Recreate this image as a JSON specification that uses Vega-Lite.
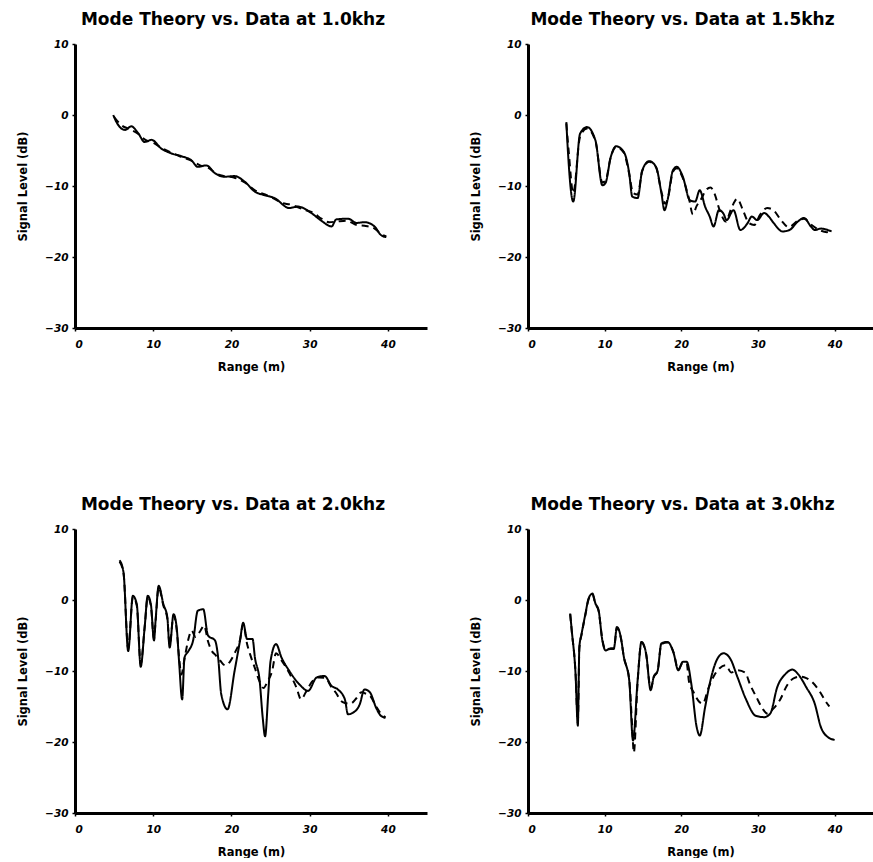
{
  "$schema": "https://vega.github.io/schema/vega-lite/v6.json",
  "background": "white",
  "padding": {"left": 17, "top": 11, "right": 0, "bottom": 0},
  "config": {
    "view": {"stroke": null},
    "axis": {"domainColor": "black", "domainWidth": 3, "tickColor": "black", "tickWidth": 1.5, "tickSize": 3, "grid": false,
      "labelFont": "DejaVu Sans", "labelFontWeight": "bold", "labelFontStyle": "italic", "labelFontSize": 10.5, "labelColor": "black",
      "titleFont": "DejaVu Sans", "titleFontWeight": "bold", "titleFontSize": 11.5, "titleColor": "black"},
    "axisX": {"labelPadding": 8, "titlePadding": 12},
    "axisY": {"labelPadding": 4, "titlePadding": 16},
    "title": {"font": "DejaVu Sans", "fontSize": 17, "fontWeight": "bold", "color": "black", "offset": 10, "dx": -18}
  },
  "datasets": {
    "d": [
      {"freq": "1.0", "series": "Data", "range": 4.9, "level": 0},
      {"freq": "1.0", "series": "Data", "range": 5.3, "level": -1},
      {"freq": "1.0", "series": "Data", "range": 6.4, "level": -2.1},
      {"freq": "1.0", "series": "Data", "range": 7.2, "level": -1.6},
      {"freq": "1.0", "series": "Data", "range": 8.1, "level": -2.6},
      {"freq": "1.0", "series": "Data", "range": 8.9, "level": -3.8},
      {"freq": "1.0", "series": "Data", "range": 9.8, "level": -3.5},
      {"freq": "1.0", "series": "Data", "range": 11, "level": -4.7},
      {"freq": "1.0", "series": "Data", "range": 12.3, "level": -5.4},
      {"freq": "1.0", "series": "Data", "range": 13.6, "level": -5.8},
      {"freq": "1.0", "series": "Data", "range": 14.9, "level": -6.4},
      {"freq": "1.0", "series": "Data", "range": 15.7, "level": -7.3},
      {"freq": "1.0", "series": "Data", "range": 16.8, "level": -7.1},
      {"freq": "1.0", "series": "Data", "range": 17.9, "level": -8.2},
      {"freq": "1.0", "series": "Data", "range": 19.1, "level": -8.7},
      {"freq": "1.0", "series": "Data", "range": 20.4, "level": -8.6},
      {"freq": "1.0", "series": "Data", "range": 21.7, "level": -9.4},
      {"freq": "1.0", "series": "Data", "range": 23, "level": -10.8},
      {"freq": "1.0", "series": "Data", "range": 24.3, "level": -11.3},
      {"freq": "1.0", "series": "Data", "range": 25.5, "level": -11.7},
      {"freq": "1.0", "series": "Data", "range": 27.4, "level": -13.1},
      {"freq": "1.0", "series": "Data", "range": 28.5, "level": -12.9},
      {"freq": "1.0", "series": "Data", "range": 30.2, "level": -13.8},
      {"freq": "1.0", "series": "Data", "range": 31.5, "level": -14.9},
      {"freq": "1.0", "series": "Data", "range": 32.8, "level": -15.7},
      {"freq": "1.0", "series": "Data", "range": 33.4, "level": -14.7},
      {"freq": "1.0", "series": "Data", "range": 34.9, "level": -14.6},
      {"freq": "1.0", "series": "Data", "range": 36, "level": -15.2},
      {"freq": "1.0", "series": "Data", "range": 37, "level": -15.1},
      {"freq": "1.0", "series": "Data", "range": 38.3, "level": -15.7},
      {"freq": "1.0", "series": "Data", "range": 39.1, "level": -16.9},
      {"freq": "1.0", "series": "Data", "range": 39.8, "level": -17.2},
      {"freq": "1.0", "series": "Theory", "range": 5, "level": -0.3},
      {"freq": "1.0", "series": "Theory", "range": 6, "level": -1.5},
      {"freq": "1.0", "series": "Theory", "range": 7, "level": -2},
      {"freq": "1.0", "series": "Theory", "range": 8, "level": -2.6},
      {"freq": "1.0", "series": "Theory", "range": 9, "level": -3.5},
      {"freq": "1.0", "series": "Theory", "range": 10, "level": -3.9},
      {"freq": "1.0", "series": "Theory", "range": 11, "level": -4.6},
      {"freq": "1.0", "series": "Theory", "range": 12.3, "level": -5.3},
      {"freq": "1.0", "series": "Theory", "range": 13.6, "level": -5.9},
      {"freq": "1.0", "series": "Theory", "range": 15, "level": -6.5},
      {"freq": "1.0", "series": "Theory", "range": 16, "level": -7.1},
      {"freq": "1.0", "series": "Theory", "range": 17, "level": -7.4},
      {"freq": "1.0", "series": "Theory", "range": 18, "level": -8.2},
      {"freq": "1.0", "series": "Theory", "range": 19, "level": -8.6},
      {"freq": "1.0", "series": "Theory", "range": 20.3, "level": -8.8},
      {"freq": "1.0", "series": "Theory", "range": 21.7, "level": -9.5},
      {"freq": "1.0", "series": "Theory", "range": 23, "level": -10.6},
      {"freq": "1.0", "series": "Theory", "range": 24.3, "level": -11.2},
      {"freq": "1.0", "series": "Theory", "range": 25.5, "level": -11.8},
      {"freq": "1.0", "series": "Theory", "range": 26.5, "level": -12.4},
      {"freq": "1.0", "series": "Theory", "range": 27.5, "level": -12.6},
      {"freq": "1.0", "series": "Theory", "range": 28.5, "level": -13},
      {"freq": "1.0", "series": "Theory", "range": 29.5, "level": -13.4},
      {"freq": "1.0", "series": "Theory", "range": 30.5, "level": -13.8},
      {"freq": "1.0", "series": "Theory", "range": 31.5, "level": -14.6},
      {"freq": "1.0", "series": "Theory", "range": 32.5, "level": -15.1},
      {"freq": "1.0", "series": "Theory", "range": 33.5, "level": -15},
      {"freq": "1.0", "series": "Theory", "range": 34.8, "level": -14.9},
      {"freq": "1.0", "series": "Theory", "range": 36, "level": -15.5},
      {"freq": "1.0", "series": "Theory", "range": 37, "level": -15.6},
      {"freq": "1.0", "series": "Theory", "range": 38.3, "level": -16},
      {"freq": "1.0", "series": "Theory", "range": 39.2, "level": -16.8},
      {"freq": "1.0", "series": "Theory", "range": 39.8, "level": -17.1},

      {"freq": "1.5", "series": "Data", "range": 5.0, "level": -1.0},
      {"freq": "1.5", "series": "Data", "range": 5.2, "level": -5},
      {"freq": "1.5", "series": "Data", "range": 5.9, "level": -12.2},
      {"freq": "1.5", "series": "Data", "range": 6.8, "level": -2.6},
      {"freq": "1.5", "series": "Data", "range": 7.7, "level": -1.7},
      {"freq": "1.5", "series": "Data", "range": 8.8, "level": -3.6},
      {"freq": "1.5", "series": "Data", "range": 9.7, "level": -9.9},
      {"freq": "1.5", "series": "Data", "range": 10.1, "level": -9.6},
      {"freq": "1.5", "series": "Data", "range": 10.8, "level": -5.9},
      {"freq": "1.5", "series": "Data", "range": 11.5, "level": -4.4},
      {"freq": "1.5", "series": "Data", "range": 12.5, "level": -5.2},
      {"freq": "1.5", "series": "Data", "range": 13.2, "level": -8.2},
      {"freq": "1.5", "series": "Data", "range": 13.6, "level": -11.5},
      {"freq": "1.5", "series": "Data", "range": 14.3, "level": -11.7},
      {"freq": "1.5", "series": "Data", "range": 14.9, "level": -7.8},
      {"freq": "1.5", "series": "Data", "range": 15.8, "level": -6.5},
      {"freq": "1.5", "series": "Data", "range": 16.7, "level": -7.3},
      {"freq": "1.5", "series": "Data", "range": 17.4, "level": -11},
      {"freq": "1.5", "series": "Data", "range": 17.8, "level": -13.4},
      {"freq": "1.5", "series": "Data", "range": 18.2, "level": -12},
      {"freq": "1.5", "series": "Data", "range": 18.9, "level": -7.8},
      {"freq": "1.5", "series": "Data", "range": 19.4, "level": -7.3},
      {"freq": "1.5", "series": "Data", "range": 20.2, "level": -8.7},
      {"freq": "1.5", "series": "Data", "range": 21.1, "level": -12},
      {"freq": "1.5", "series": "Data", "range": 21.8, "level": -12.2},
      {"freq": "1.5", "series": "Data", "range": 22.4, "level": -10.6},
      {"freq": "1.5", "series": "Data", "range": 23.1, "level": -12.9},
      {"freq": "1.5", "series": "Data", "range": 23.7, "level": -14.3},
      {"freq": "1.5", "series": "Data", "range": 24.2, "level": -15.7},
      {"freq": "1.5", "series": "Data", "range": 24.9, "level": -13.4},
      {"freq": "1.5", "series": "Data", "range": 25.5, "level": -13.9},
      {"freq": "1.5", "series": "Data", "range": 25.9, "level": -14.8},
      {"freq": "1.5", "series": "Data", "range": 26.8, "level": -13.4},
      {"freq": "1.5", "series": "Data", "range": 27.7, "level": -16.2},
      {"freq": "1.5", "series": "Data", "range": 28.6, "level": -15.3},
      {"freq": "1.5", "series": "Data", "range": 29.2, "level": -14.3},
      {"freq": "1.5", "series": "Data", "range": 29.9, "level": -14.8},
      {"freq": "1.5", "series": "Data", "range": 30.8, "level": -13.8},
      {"freq": "1.5", "series": "Data", "range": 31.4, "level": -14.3},
      {"freq": "1.5", "series": "Data", "range": 32.1, "level": -15.3},
      {"freq": "1.5", "series": "Data", "range": 33.2, "level": -16.4},
      {"freq": "1.5", "series": "Data", "range": 34.1, "level": -16.2},
      {"freq": "1.5", "series": "Data", "range": 35.2, "level": -15},
      {"freq": "1.5", "series": "Data", "range": 36, "level": -14.5},
      {"freq": "1.5", "series": "Data", "range": 36.9, "level": -15.7},
      {"freq": "1.5", "series": "Data", "range": 37.4, "level": -16.2},
      {"freq": "1.5", "series": "Data", "range": 38.2, "level": -16},
      {"freq": "1.5", "series": "Data", "range": 39.1, "level": -16.2},
      {"freq": "1.5", "series": "Data", "range": 39.6, "level": -16.4},
      {"freq": "1.5", "series": "Theory", "range": 5.0, "level": -1.2},
      {"freq": "1.5", "series": "Theory", "range": 5.3, "level": -5},
      {"freq": "1.5", "series": "Theory", "range": 5.9, "level": -11},
      {"freq": "1.5", "series": "Theory", "range": 6.8, "level": -3},
      {"freq": "1.5", "series": "Theory", "range": 7.7, "level": -1.9},
      {"freq": "1.5", "series": "Theory", "range": 8.8, "level": -3.7},
      {"freq": "1.5", "series": "Theory", "range": 9.7, "level": -9.5},
      {"freq": "1.5", "series": "Theory", "range": 10.1, "level": -9.3},
      {"freq": "1.5", "series": "Theory", "range": 10.8, "level": -5.9},
      {"freq": "1.5", "series": "Theory", "range": 11.5, "level": -4.5},
      {"freq": "1.5", "series": "Theory", "range": 12.5, "level": -5.3},
      {"freq": "1.5", "series": "Theory", "range": 13.2, "level": -8.3},
      {"freq": "1.5", "series": "Theory", "range": 13.7, "level": -11},
      {"freq": "1.5", "series": "Theory", "range": 14.3, "level": -11.2},
      {"freq": "1.5", "series": "Theory", "range": 14.9, "level": -7.9},
      {"freq": "1.5", "series": "Theory", "range": 15.8, "level": -6.6},
      {"freq": "1.5", "series": "Theory", "range": 16.7, "level": -7.4},
      {"freq": "1.5", "series": "Theory", "range": 17.4, "level": -10.8},
      {"freq": "1.5", "series": "Theory", "range": 17.9, "level": -12.5},
      {"freq": "1.5", "series": "Theory", "range": 18.3, "level": -11.5},
      {"freq": "1.5", "series": "Theory", "range": 18.9, "level": -8},
      {"freq": "1.5", "series": "Theory", "range": 19.4, "level": -7.5},
      {"freq": "1.5", "series": "Theory", "range": 20.2, "level": -8.9},
      {"freq": "1.5", "series": "Theory", "range": 21, "level": -11.8},
      {"freq": "1.5", "series": "Theory", "range": 21.5, "level": -14},
      {"freq": "1.5", "series": "Theory", "range": 22, "level": -12.8},
      {"freq": "1.5", "series": "Theory", "range": 22.6, "level": -11.8},
      {"freq": "1.5", "series": "Theory", "range": 23.2, "level": -10.6},
      {"freq": "1.5", "series": "Theory", "range": 23.8, "level": -10.2},
      {"freq": "1.5", "series": "Theory", "range": 24.3, "level": -11},
      {"freq": "1.5", "series": "Theory", "range": 25, "level": -13.4},
      {"freq": "1.5", "series": "Theory", "range": 25.8, "level": -15},
      {"freq": "1.5", "series": "Theory", "range": 26.5, "level": -13.2},
      {"freq": "1.5", "series": "Theory", "range": 27.3, "level": -11.8},
      {"freq": "1.5", "series": "Theory", "range": 28, "level": -13.3},
      {"freq": "1.5", "series": "Theory", "range": 28.8, "level": -15.2},
      {"freq": "1.5", "series": "Theory", "range": 29.5, "level": -15.5},
      {"freq": "1.5", "series": "Theory", "range": 30.3, "level": -14},
      {"freq": "1.5", "series": "Theory", "range": 31.2, "level": -13.1},
      {"freq": "1.5", "series": "Theory", "range": 32, "level": -13.4},
      {"freq": "1.5", "series": "Theory", "range": 33, "level": -14.8},
      {"freq": "1.5", "series": "Theory", "range": 34, "level": -15.8},
      {"freq": "1.5", "series": "Theory", "range": 35.2, "level": -14.9},
      {"freq": "1.5", "series": "Theory", "range": 36, "level": -14.6},
      {"freq": "1.5", "series": "Theory", "range": 37, "level": -15.5},
      {"freq": "1.5", "series": "Theory", "range": 38, "level": -16.2},
      {"freq": "1.5", "series": "Theory", "range": 39, "level": -16.5},
      {"freq": "1.5", "series": "Theory", "range": 39.6, "level": -16.4},

      {"freq": "2.0", "series": "Data", "range": 5.7, "level": 5.6},
      {"freq": "2.0", "series": "Data", "range": 6.2, "level": 3.9},
      {"freq": "2.0", "series": "Data", "range": 6.8, "level": -7.2},
      {"freq": "2.0", "series": "Data", "range": 7.4, "level": 0.6},
      {"freq": "2.0", "series": "Data", "range": 7.9, "level": -0.6},
      {"freq": "2.0", "series": "Data", "range": 8.4, "level": -9.4},
      {"freq": "2.0", "series": "Data", "range": 8.9, "level": -3.9},
      {"freq": "2.0", "series": "Data", "range": 9.3, "level": 0.6},
      {"freq": "2.0", "series": "Data", "range": 9.7, "level": -0.6},
      {"freq": "2.0", "series": "Data", "range": 10.1, "level": -5.7},
      {"freq": "2.0", "series": "Data", "range": 10.3, "level": -2.9},
      {"freq": "2.0", "series": "Data", "range": 10.7, "level": 2.0},
      {"freq": "2.0", "series": "Data", "range": 11.3, "level": -0.6},
      {"freq": "2.0", "series": "Data", "range": 11.8, "level": -2.4},
      {"freq": "2.0", "series": "Data", "range": 12.1, "level": -6.7},
      {"freq": "2.0", "series": "Data", "range": 12.6, "level": -2.0},
      {"freq": "2.0", "series": "Data", "range": 13, "level": -3.9},
      {"freq": "2.0", "series": "Data", "range": 13.3, "level": -8.6},
      {"freq": "2.0", "series": "Data", "range": 13.7, "level": -14},
      {"freq": "2.0", "series": "Data", "range": 14, "level": -8.1},
      {"freq": "2.0", "series": "Data", "range": 14.5, "level": -7.2},
      {"freq": "2.0", "series": "Data", "range": 15.1, "level": -5.7},
      {"freq": "2.0", "series": "Data", "range": 15.7, "level": -1.5},
      {"freq": "2.0", "series": "Data", "range": 16.4, "level": -1.3},
      {"freq": "2.0", "series": "Data", "range": 17, "level": -5},
      {"freq": "2.0", "series": "Data", "range": 17.9, "level": -5.7},
      {"freq": "2.0", "series": "Data", "range": 18.3, "level": -8.1},
      {"freq": "2.0", "series": "Data", "range": 18.7, "level": -13.3},
      {"freq": "2.0", "series": "Data", "range": 19.5, "level": -15.4},
      {"freq": "2.0", "series": "Data", "range": 20.4, "level": -10},
      {"freq": "2.0", "series": "Data", "range": 21.1, "level": -5.7},
      {"freq": "2.0", "series": "Data", "range": 21.5, "level": -3.2},
      {"freq": "2.0", "series": "Data", "range": 22, "level": -5.5},
      {"freq": "2.0", "series": "Data", "range": 22.7, "level": -5.5},
      {"freq": "2.0", "series": "Data", "range": 23, "level": -8.1},
      {"freq": "2.0", "series": "Data", "range": 23.6, "level": -11.3},
      {"freq": "2.0", "series": "Data", "range": 24, "level": -16.6},
      {"freq": "2.0", "series": "Data", "range": 24.3, "level": -19.2},
      {"freq": "2.0", "series": "Data", "range": 24.7, "level": -13.3},
      {"freq": "2.0", "series": "Data", "range": 25, "level": -8.6},
      {"freq": "2.0", "series": "Data", "range": 25.7, "level": -6.2},
      {"freq": "2.0", "series": "Data", "range": 26.4, "level": -8.1},
      {"freq": "2.0", "series": "Data", "range": 27.4, "level": -10},
      {"freq": "2.0", "series": "Data", "range": 28.7, "level": -11.9},
      {"freq": "2.0", "series": "Data", "range": 29.8, "level": -12.8},
      {"freq": "2.0", "series": "Data", "range": 30.9, "level": -10.9},
      {"freq": "2.0", "series": "Data", "range": 31.9, "level": -10.7},
      {"freq": "2.0", "series": "Data", "range": 32.8, "level": -12.1},
      {"freq": "2.0", "series": "Data", "range": 33.6, "level": -12.6},
      {"freq": "2.0", "series": "Data", "range": 34.5, "level": -14},
      {"freq": "2.0", "series": "Data", "range": 34.9, "level": -16.1},
      {"freq": "2.0", "series": "Data", "range": 35.5, "level": -15.9},
      {"freq": "2.0", "series": "Data", "range": 36.4, "level": -14.7},
      {"freq": "2.0", "series": "Data", "range": 37, "level": -12.6},
      {"freq": "2.0", "series": "Data", "range": 37.7, "level": -13},
      {"freq": "2.0", "series": "Data", "range": 38.5, "level": -15.2},
      {"freq": "2.0", "series": "Data", "range": 39.1, "level": -16.3},
      {"freq": "2.0", "series": "Data", "range": 39.7, "level": -16.6},
      {"freq": "2.0", "series": "Theory", "range": 5.7, "level": 5.4},
      {"freq": "2.0", "series": "Theory", "range": 6.2, "level": 3.8},
      {"freq": "2.0", "series": "Theory", "range": 6.8, "level": -6.8},
      {"freq": "2.0", "series": "Theory", "range": 7.4, "level": 0.4},
      {"freq": "2.0", "series": "Theory", "range": 7.9, "level": -0.8},
      {"freq": "2.0", "series": "Theory", "range": 8.4, "level": -9},
      {"freq": "2.0", "series": "Theory", "range": 8.9, "level": -3.9},
      {"freq": "2.0", "series": "Theory", "range": 9.3, "level": 0.4},
      {"freq": "2.0", "series": "Theory", "range": 9.7, "level": -0.8},
      {"freq": "2.0", "series": "Theory", "range": 10.1, "level": -5.5},
      {"freq": "2.0", "series": "Theory", "range": 10.3, "level": -3},
      {"freq": "2.0", "series": "Theory", "range": 10.7, "level": 1.8},
      {"freq": "2.0", "series": "Theory", "range": 11.3, "level": -0.8},
      {"freq": "2.0", "series": "Theory", "range": 11.8, "level": -2.6},
      {"freq": "2.0", "series": "Theory", "range": 12.1, "level": -6.3},
      {"freq": "2.0", "series": "Theory", "range": 12.6, "level": -2.2},
      {"freq": "2.0", "series": "Theory", "range": 13, "level": -4.2},
      {"freq": "2.0", "series": "Theory", "range": 13.3, "level": -8},
      {"freq": "2.0", "series": "Theory", "range": 13.6, "level": -10.5},
      {"freq": "2.0", "series": "Theory", "range": 14, "level": -8.3},
      {"freq": "2.0", "series": "Theory", "range": 14.5, "level": -5.5},
      {"freq": "2.0", "series": "Theory", "range": 14.9, "level": -4.3},
      {"freq": "2.0", "series": "Theory", "range": 15.4, "level": -5.2},
      {"freq": "2.0", "series": "Theory", "range": 16, "level": -4.4},
      {"freq": "2.0", "series": "Theory", "range": 16.5, "level": -3.6},
      {"freq": "2.0", "series": "Theory", "range": 17, "level": -5.8},
      {"freq": "2.0", "series": "Theory", "range": 17.4, "level": -7},
      {"freq": "2.0", "series": "Theory", "range": 18, "level": -7.8},
      {"freq": "2.0", "series": "Theory", "range": 18.6, "level": -8.6},
      {"freq": "2.0", "series": "Theory", "range": 19.2, "level": -9.2},
      {"freq": "2.0", "series": "Theory", "range": 19.8, "level": -8.7},
      {"freq": "2.0", "series": "Theory", "range": 20.4, "level": -7.5},
      {"freq": "2.0", "series": "Theory", "range": 21.1, "level": -5.6},
      {"freq": "2.0", "series": "Theory", "range": 21.5, "level": -3.4},
      {"freq": "2.0", "series": "Theory", "range": 22, "level": -6.2},
      {"freq": "2.0", "series": "Theory", "range": 22.4, "level": -7.7},
      {"freq": "2.0", "series": "Theory", "range": 23, "level": -9.6},
      {"freq": "2.0", "series": "Theory", "range": 23.6, "level": -11.5},
      {"freq": "2.0", "series": "Theory", "range": 24.1, "level": -12.4},
      {"freq": "2.0", "series": "Theory", "range": 24.6, "level": -11.5},
      {"freq": "2.0", "series": "Theory", "range": 25.2, "level": -10},
      {"freq": "2.0", "series": "Theory", "range": 25.7, "level": -7.5},
      {"freq": "2.0", "series": "Theory", "range": 26.4, "level": -8.5},
      {"freq": "2.0", "series": "Theory", "range": 27.4, "level": -10.3},
      {"freq": "2.0", "series": "Theory", "range": 28.3, "level": -12.3},
      {"freq": "2.0", "series": "Theory", "range": 28.9, "level": -14},
      {"freq": "2.0", "series": "Theory", "range": 29.5, "level": -13},
      {"freq": "2.0", "series": "Theory", "range": 30.3, "level": -11.5},
      {"freq": "2.0", "series": "Theory", "range": 31.2, "level": -10.9},
      {"freq": "2.0", "series": "Theory", "range": 32, "level": -11},
      {"freq": "2.0", "series": "Theory", "range": 32.8, "level": -12.3},
      {"freq": "2.0", "series": "Theory", "range": 33.5, "level": -13.3},
      {"freq": "2.0", "series": "Theory", "range": 33.9, "level": -14.1},
      {"freq": "2.0", "series": "Theory", "range": 34.5, "level": -14.5},
      {"freq": "2.0", "series": "Theory", "range": 35.2, "level": -14.6},
      {"freq": "2.0", "series": "Theory", "range": 36, "level": -13.8},
      {"freq": "2.0", "series": "Theory", "range": 36.6, "level": -13},
      {"freq": "2.0", "series": "Theory", "range": 37.2, "level": -13.2},
      {"freq": "2.0", "series": "Theory", "range": 37.8, "level": -13.6},
      {"freq": "2.0", "series": "Theory", "range": 38.5, "level": -15},
      {"freq": "2.0", "series": "Theory", "range": 39.1, "level": -16},
      {"freq": "2.0", "series": "Theory", "range": 39.7, "level": -16.5},

      {"freq": "3.0", "series": "Data", "range": 5.5, "level": -1.9},
      {"freq": "3.0", "series": "Data", "range": 5.7, "level": -4.2},
      {"freq": "3.0", "series": "Data", "range": 6.2, "level": -10.4},
      {"freq": "3.0", "series": "Data", "range": 6.5, "level": -17.7},
      {"freq": "3.0", "series": "Data", "range": 6.7, "level": -6.6},
      {"freq": "3.0", "series": "Data", "range": 7.0, "level": -4.7},
      {"freq": "3.0", "series": "Data", "range": 7.5, "level": -1.9},
      {"freq": "3.0", "series": "Data", "range": 7.9, "level": 0.2},
      {"freq": "3.0", "series": "Data", "range": 8.4, "level": 0.9},
      {"freq": "3.0", "series": "Data", "range": 8.8, "level": -0.5},
      {"freq": "3.0", "series": "Data", "range": 9.2, "level": -1.4},
      {"freq": "3.0", "series": "Data", "range": 9.7, "level": -5.7},
      {"freq": "3.0", "series": "Data", "range": 10.1, "level": -7.1},
      {"freq": "3.0", "series": "Data", "range": 10.8, "level": -6.8},
      {"freq": "3.0", "series": "Data", "range": 11.2, "level": -6.8},
      {"freq": "3.0", "series": "Data", "range": 11.6, "level": -3.8},
      {"freq": "3.0", "series": "Data", "range": 12.1, "level": -5.2},
      {"freq": "3.0", "series": "Data", "range": 12.5, "level": -8},
      {"freq": "3.0", "series": "Data", "range": 13.2, "level": -11.3},
      {"freq": "3.0", "series": "Data", "range": 13.7, "level": -19.8},
      {"freq": "3.0", "series": "Data", "range": 14.3, "level": -11.3},
      {"freq": "3.0", "series": "Data", "range": 14.8, "level": -5.9},
      {"freq": "3.0", "series": "Data", "range": 15.4, "level": -7.5},
      {"freq": "3.0", "series": "Data", "range": 16, "level": -12.7},
      {"freq": "3.0", "series": "Data", "range": 16.4, "level": -10.8},
      {"freq": "3.0", "series": "Data", "range": 16.9, "level": -10},
      {"freq": "3.0", "series": "Data", "range": 17.4, "level": -6.1},
      {"freq": "3.0", "series": "Data", "range": 18.2, "level": -5.9},
      {"freq": "3.0", "series": "Data", "range": 19, "level": -7.5},
      {"freq": "3.0", "series": "Data", "range": 19.6, "level": -9.9},
      {"freq": "3.0", "series": "Data", "range": 20.2, "level": -8.7},
      {"freq": "3.0", "series": "Data", "range": 20.7, "level": -8.7},
      {"freq": "3.0", "series": "Data", "range": 21.3, "level": -11.8},
      {"freq": "3.0", "series": "Data", "range": 22, "level": -17.9},
      {"freq": "3.0", "series": "Data", "range": 22.4, "level": -19.1},
      {"freq": "3.0", "series": "Data", "range": 23.1, "level": -15.1},
      {"freq": "3.0", "series": "Data", "range": 23.7, "level": -11.8},
      {"freq": "3.0", "series": "Data", "range": 24.6, "level": -8.5},
      {"freq": "3.0", "series": "Data", "range": 25.5, "level": -7.5},
      {"freq": "3.0", "series": "Data", "range": 26.4, "level": -8.3},
      {"freq": "3.0", "series": "Data", "range": 27.3, "level": -10.8},
      {"freq": "3.0", "series": "Data", "range": 28.4, "level": -13.9},
      {"freq": "3.0", "series": "Data", "range": 29.7, "level": -16.3},
      {"freq": "3.0", "series": "Data", "range": 30.8, "level": -16.5},
      {"freq": "3.0", "series": "Data", "range": 31.6, "level": -16},
      {"freq": "3.0", "series": "Data", "range": 32.5, "level": -12.3},
      {"freq": "3.0", "series": "Data", "range": 33.6, "level": -10.4},
      {"freq": "3.0", "series": "Data", "range": 34.5, "level": -9.8},
      {"freq": "3.0", "series": "Data", "range": 35.2, "level": -10.4},
      {"freq": "3.0", "series": "Data", "range": 36.3, "level": -12.3},
      {"freq": "3.0", "series": "Data", "range": 37.4, "level": -14.6},
      {"freq": "3.0", "series": "Data", "range": 38.2, "level": -17.9},
      {"freq": "3.0", "series": "Data", "range": 39.1, "level": -19.3},
      {"freq": "3.0", "series": "Data", "range": 40, "level": -19.7},
      {"freq": "3.0", "series": "Theory", "range": 5.5, "level": -2},
      {"freq": "3.0", "series": "Theory", "range": 5.7, "level": -4.3},
      {"freq": "3.0", "series": "Theory", "range": 6.2, "level": -10.2},
      {"freq": "3.0", "series": "Theory", "range": 6.5, "level": -17.3},
      {"freq": "3.0", "series": "Theory", "range": 6.7, "level": -6.8},
      {"freq": "3.0", "series": "Theory", "range": 7.0, "level": -4.8},
      {"freq": "3.0", "series": "Theory", "range": 7.5, "level": -2},
      {"freq": "3.0", "series": "Theory", "range": 7.9, "level": 0.1},
      {"freq": "3.0", "series": "Theory", "range": 8.4, "level": 0.8},
      {"freq": "3.0", "series": "Theory", "range": 8.8, "level": -0.6},
      {"freq": "3.0", "series": "Theory", "range": 9.2, "level": -1.5},
      {"freq": "3.0", "series": "Theory", "range": 9.7, "level": -5.6},
      {"freq": "3.0", "series": "Theory", "range": 10.1, "level": -7},
      {"freq": "3.0", "series": "Theory", "range": 10.8, "level": -6.9},
      {"freq": "3.0", "series": "Theory", "range": 11.2, "level": -6.9},
      {"freq": "3.0", "series": "Theory", "range": 11.6, "level": -3.9},
      {"freq": "3.0", "series": "Theory", "range": 12.1, "level": -5.3},
      {"freq": "3.0", "series": "Theory", "range": 12.5, "level": -8},
      {"freq": "3.0", "series": "Theory", "range": 13.2, "level": -11.2},
      {"freq": "3.0", "series": "Theory", "range": 13.6, "level": -18},
      {"freq": "3.0", "series": "Theory", "range": 13.8, "level": -21.5},
      {"freq": "3.0", "series": "Theory", "range": 14.3, "level": -11.5},
      {"freq": "3.0", "series": "Theory", "range": 14.8, "level": -6},
      {"freq": "3.0", "series": "Theory", "range": 15.4, "level": -7.6},
      {"freq": "3.0", "series": "Theory", "range": 16, "level": -12.5},
      {"freq": "3.0", "series": "Theory", "range": 16.4, "level": -10.9},
      {"freq": "3.0", "series": "Theory", "range": 16.9, "level": -10},
      {"freq": "3.0", "series": "Theory", "range": 17.4, "level": -6.2},
      {"freq": "3.0", "series": "Theory", "range": 18.2, "level": -6},
      {"freq": "3.0", "series": "Theory", "range": 19, "level": -7.4},
      {"freq": "3.0", "series": "Theory", "range": 19.6, "level": -9.8},
      {"freq": "3.0", "series": "Theory", "range": 20.2, "level": -8.8},
      {"freq": "3.0", "series": "Theory", "range": 20.7, "level": -9},
      {"freq": "3.0", "series": "Theory", "range": 21, "level": -11.5},
      {"freq": "3.0", "series": "Theory", "range": 21.6, "level": -13},
      {"freq": "3.0", "series": "Theory", "range": 22.3, "level": -14.3},
      {"freq": "3.0", "series": "Theory", "range": 22.8, "level": -14.6},
      {"freq": "3.0", "series": "Theory", "range": 23.5, "level": -12.5},
      {"freq": "3.0", "series": "Theory", "range": 24.3, "level": -10.6},
      {"freq": "3.0", "series": "Theory", "range": 25, "level": -9.6},
      {"freq": "3.0", "series": "Theory", "range": 25.8, "level": -9.2},
      {"freq": "3.0", "series": "Theory", "range": 26.5, "level": -10.2},
      {"freq": "3.0", "series": "Theory", "range": 27.3, "level": -9.9},
      {"freq": "3.0", "series": "Theory", "range": 28.3, "level": -10.2},
      {"freq": "3.0", "series": "Theory", "range": 29, "level": -12},
      {"freq": "3.0", "series": "Theory", "range": 29.8, "level": -13.7},
      {"freq": "3.0", "series": "Theory", "range": 30.6, "level": -15.3},
      {"freq": "3.0", "series": "Theory", "range": 31.2, "level": -16},
      {"freq": "3.0", "series": "Theory", "range": 32, "level": -15.3},
      {"freq": "3.0", "series": "Theory", "range": 32.9, "level": -14},
      {"freq": "3.0", "series": "Theory", "range": 33.8, "level": -12},
      {"freq": "3.0", "series": "Theory", "range": 34.7, "level": -11},
      {"freq": "3.0", "series": "Theory", "range": 35.5, "level": -10.8},
      {"freq": "3.0", "series": "Theory", "range": 36.3, "level": -11},
      {"freq": "3.0", "series": "Theory", "range": 37, "level": -11.5},
      {"freq": "3.0", "series": "Theory", "range": 38, "level": -12.8},
      {"freq": "3.0", "series": "Theory", "range": 38.9, "level": -14.4},
      {"freq": "3.0", "series": "Theory", "range": 39.3, "level": -15}
    ]
  },
  "columns": 2,
  "spacing": {"row": 123, "column": 43},
  "concat": [
    {
      "title": "Mode Theory vs. Data at 1.0khz",
      "width": 352, "height": 284,
      "data": {"name": "d"},
      "transform": [{"filter": "datum.freq == '1.0'"}],
      "mark": {"type": "line", "color": "black", "strokeWidth": 2, "interpolate": "monotone"},
      "encoding": {
        "x": {"field": "range", "type": "quantitative", "scale": {"domain": [0, 45], "nice": false}, "axis": {"values": [0, 10, 20, 30, 40], "title": "Range (m)"}},
        "y": {"field": "level", "type": "quantitative", "scale": {"domain": [-30, 10], "nice": false}, "axis": {"values": [-30, -20, -10, 0, 10], "title": "Signal Level (dB)"}},
        "strokeDash": {"field": "series", "type": "nominal", "scale": {"domain": ["Data", "Theory"], "range": [[1, 0], [7, 5]]}, "legend": null}
      }
    },
    {
      "title": "Mode Theory vs. Data at 1.5khz",
      "width": 345, "height": 284,
      "data": {"name": "d"},
      "transform": [{"filter": "datum.freq == '1.5'"}],
      "mark": {"type": "line", "color": "black", "strokeWidth": 2, "interpolate": "monotone"},
      "encoding": {
        "x": {"field": "range", "type": "quantitative", "scale": {"domain": [0, 45], "nice": false}, "axis": {"values": [0, 10, 20, 30, 40], "title": "Range (m)"}},
        "y": {"field": "level", "type": "quantitative", "scale": {"domain": [-30, 10], "nice": false}, "axis": {"values": [-30, -20, -10, 0, 10], "title": "Signal Level (dB)"}},
        "strokeDash": {"field": "series", "type": "nominal", "scale": {"domain": ["Data", "Theory"], "range": [[1, 0], [7, 5]]}, "legend": null}
      }
    },
    {
      "title": "Mode Theory vs. Data at 2.0khz",
      "width": 352, "height": 284,
      "data": {"name": "d"},
      "transform": [{"filter": "datum.freq == '2.0'"}],
      "mark": {"type": "line", "color": "black", "strokeWidth": 2, "interpolate": "monotone"},
      "encoding": {
        "x": {"field": "range", "type": "quantitative", "scale": {"domain": [0, 45], "nice": false}, "axis": {"values": [0, 10, 20, 30, 40], "title": "Range (m)"}},
        "y": {"field": "level", "type": "quantitative", "scale": {"domain": [-30, 10], "nice": false}, "axis": {"values": [-30, -20, -10, 0, 10], "title": "Signal Level (dB)"}},
        "strokeDash": {"field": "series", "type": "nominal", "scale": {"domain": ["Data", "Theory"], "range": [[1, 0], [7, 5]]}, "legend": null}
      }
    },
    {
      "title": "Mode Theory vs. Data at 3.0khz",
      "width": 345, "height": 284,
      "data": {"name": "d"},
      "transform": [{"filter": "datum.freq == '3.0'"}],
      "mark": {"type": "line", "color": "black", "strokeWidth": 2, "interpolate": "monotone"},
      "encoding": {
        "x": {"field": "range", "type": "quantitative", "scale": {"domain": [0, 45], "nice": false}, "axis": {"values": [0, 10, 20, 30, 40], "title": "Range (m)"}},
        "y": {"field": "level", "type": "quantitative", "scale": {"domain": [-30, 10], "nice": false}, "axis": {"values": [-30, -20, -10, 0, 10], "title": "Signal Level (dB)"}},
        "strokeDash": {"field": "series", "type": "nominal", "scale": {"domain": ["Data", "Theory"], "range": [[1, 0], [7, 5]]}, "legend": null}
      }
    }
  ]
}
